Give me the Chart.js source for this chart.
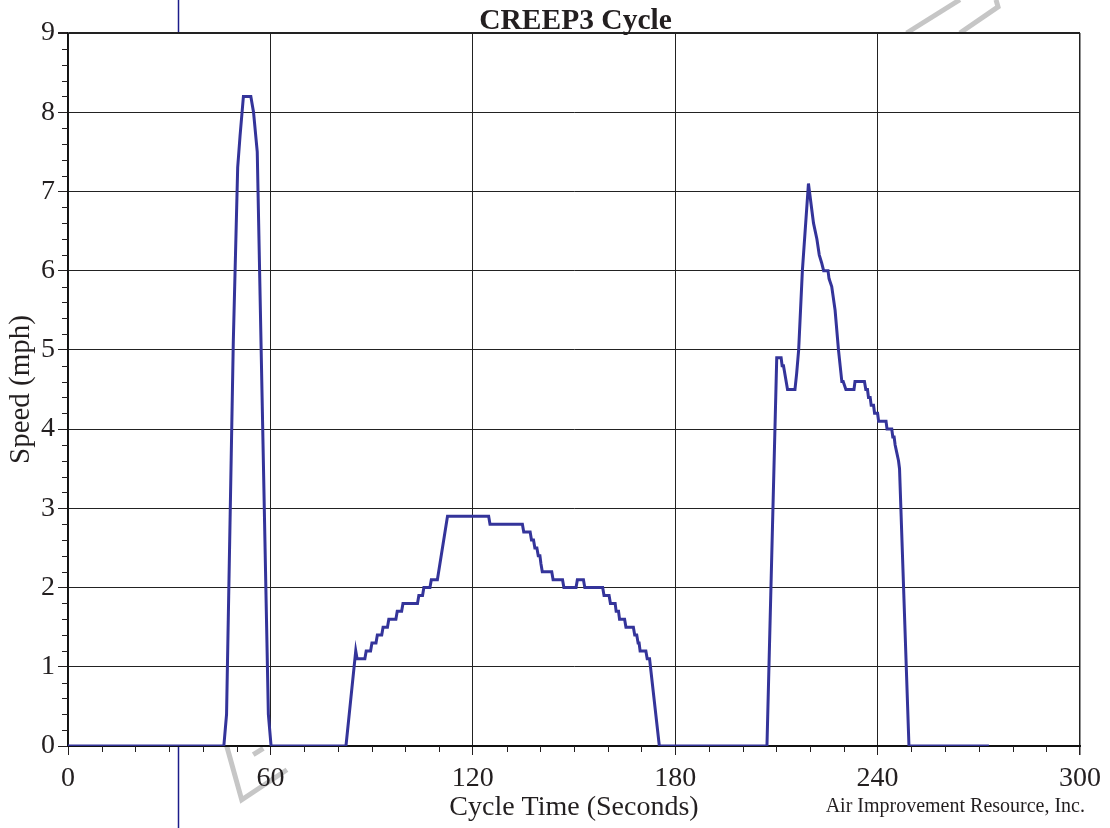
<!DOCTYPE html>
<html>
<head>
<meta charset="utf-8">
<title>CREEP3 Cycle</title>
<script src="https://cdn.jsdelivr.net/npm/chart.js@4.4.1/dist/chart.umd.min.js"></script>
<style>
  html, body { margin: 0; padding: 0; background: #fff; }
  #wrap { position: relative; width: 1110px; height: 828px; }
</style>
</head>
<body>
<div id="wrap"><canvas id="creepChart"></canvas></div>
<script>
// CREEP3 speed trace (seconds, mph)
const cycleTimes = [
  0, 46.2, 47, 49, 50.3, 51, 52, 54.2, 55, 56.1, 59.4, 60.2,
  82.4, 85.3, 85.7, 88, 88.4, 89.7, 90.1, 91.3, 91.7, 93, 93.4, 94.7,
  95.1, 97.2, 97.6, 98.9, 99.3, 103.6, 104, 105.1, 105.5, 107.3, 107.7, 109.5,
  112.5, 124.7, 125.1, 134.7, 135.1, 137, 137.4, 138, 138.4, 139, 139.4, 139.9,
  140.2, 140.6, 143.4, 143.8, 146.6, 147, 150.6, 151, 152.8, 153.2, 158.5, 158.9,
  160.4, 160.8, 162.2, 162.5, 163.2, 163.5, 165, 165.4, 167.6, 168, 168.6, 169,
  169.3, 169.6, 171.3, 171.7, 172.4, 175.3,
  207.2, 210.1, 211.4, 211.7, 212.1, 213.3, 215.5, 216, 216.6, 217.7, 219.5, 219.8,
  221, 222, 222.7, 223.4, 224, 225.3, 225.6, 226.4, 227.4, 228.4, 229.4, 229.8,
  230.6, 233, 233.3, 236.1, 236.5, 237, 237.3, 237.8, 238.1, 238.8, 239.1, 240,
  240.3, 242.5, 242.8, 244.2, 244.5, 244.9, 245.2, 245.7, 246.2, 246.5, 249.3, 273
];
const cycleSpeeds = [
  0, 0, 0.4, 5.1, 7.3, 7.7, 8.2, 8.2, 8.0, 7.5, 0.4, 0,
  0, 1.2, 1.1, 1.1, 1.2, 1.2, 1.3, 1.3, 1.4, 1.4, 1.5, 1.5,
  1.6, 1.6, 1.7, 1.7, 1.8, 1.8, 1.9, 1.9, 2.0, 2.0, 2.1, 2.1,
  2.9, 2.9, 2.8, 2.8, 2.7, 2.7, 2.6, 2.6, 2.5, 2.5, 2.4, 2.4,
  2.3, 2.2, 2.2, 2.1, 2.1, 2.0, 2.0, 2.1, 2.1, 2.0, 2.0, 1.9,
  1.9, 1.8, 1.8, 1.7, 1.7, 1.6, 1.6, 1.5, 1.5, 1.4, 1.4, 1.3,
  1.3, 1.2, 1.2, 1.1, 1.1, 0,
  0, 4.9, 4.9, 4.8, 4.8, 4.5, 4.5, 4.7, 5.0, 6.0, 7.1, 7.0,
  6.6, 6.4, 6.2, 6.1, 6.0, 6.0, 5.9, 5.8, 5.5, 5.0, 4.6, 4.6,
  4.5, 4.5, 4.6, 4.6, 4.5, 4.5, 4.4, 4.4, 4.3, 4.3, 4.2, 4.2,
  4.1, 4.1, 4.0, 4.0, 3.9, 3.9, 3.8, 3.7, 3.6, 3.5, 0, 0
];

const xMajorStep = 60;
const xMinorStep = 10;
const yMajorStep = 1;
const yMinorStep = 0.2;

const chartTitle = 'CREEP3 Cycle';
const xTitle = 'Cycle Time (Seconds)';
const yTitle = 'Speed (mph)';
const footerText = 'Air Improvement Resource, Inc.';

const SERIF = "'Liberation Serif', 'Times New Roman', serif";
const INK = '#231f20';

// scan artifacts in the source page (data units, drawn behind the plot)
const navyRuleAt = 32.6;
const grayStrokes = [
  [[248.6, 9.0], [264.4, 9.42]],
  [[264.4, 9.0], [275.7, 9.33], [275.1, 9.42]],
  [[47.05, 0], [51.5, -0.68], [64.9, -0.3]],
  [[54.9, -0.11], [57.9, -0.03]]
];

const pageBackdrop = {
  id: 'pageBackdrop',
  beforeDraw(chart) {
    const { ctx, chartArea: a, scales: { x, y } } = chart;
    ctx.save();
    ctx.fillStyle = '#fff';
    ctx.fillRect(0, 0, chart.width, chart.height);

    ctx.strokeStyle = '#c6c6c6';
    ctx.lineWidth = 5;
    ctx.lineJoin = 'miter';
    grayStrokes.forEach(stroke => {
      ctx.beginPath();
      stroke.forEach(([t, v], i) => {
        const px = x.getPixelForValue(t), py = y.getPixelForValue(v);
        if (i === 0) ctx.moveTo(px, py); else ctx.lineTo(px, py);
      });
      ctx.stroke();
    });

    const nx = Math.round(x.getPixelForValue(navyRuleAt)) + 0.5;
    ctx.strokeStyle = '#1c1c8a';
    ctx.lineWidth = 1.5;
    ctx.beginPath();
    ctx.moveTo(nx, 0);
    ctx.lineTo(nx, chart.height);
    ctx.stroke();

    ctx.fillStyle = '#fff';
    ctx.fillRect(a.left, a.top, a.right - a.left, a.bottom - a.top);
    ctx.restore();
  }
};

const minorTicks = {
  id: 'minorTicks',
  beforeDatasetsDraw(chart) {
    const { ctx, scales: { x, y } } = chart;
    ctx.save();
    ctx.strokeStyle = INK;
    ctx.lineWidth = 1;
    ctx.beginPath();
    const perY = Math.round(yMajorStep / yMinorStep);
    for (let i = 0; i <= Math.round(y.max / yMinorStep); i++) {
      if (i % perY === 0) continue;
      const py = Math.round(y.getPixelForValue(i * yMinorStep)) + 0.5;
      ctx.moveTo(x.left - 6, py);
      ctx.lineTo(x.left, py);
    }
    const perX = Math.round(xMajorStep / xMinorStep);
    for (let i = 0; i <= Math.round(x.max / xMinorStep); i++) {
      if (i % perX === 0) continue;
      const px = Math.round(x.getPixelForValue(i * xMinorStep)) + 0.5;
      ctx.moveTo(px, y.bottom);
      ctx.lineTo(px, y.bottom + 6);
    }
    ctx.stroke();
    ctx.restore();
  }
};

const pageText = {
  id: 'pageText',
  afterDraw(chart) {
    const { ctx, chartArea: a } = chart;
    ctx.save();
    ctx.fillStyle = INK;
    ctx.textBaseline = 'alphabetic';
    ctx.textAlign = 'center';
    ctx.font = 'bold 29.5px ' + SERIF;
    ctx.fillText(chartTitle, (a.left + a.right) / 2 + 1.5, a.top - 4);
    ctx.textAlign = 'right';
    ctx.font = '20px ' + SERIF;
    ctx.fillText(footerText, a.right + 5, chart.height - 16);
    ctx.restore();
  }
};

const points = cycleTimes.map((t, i) => ({ x: t, y: cycleSpeeds[i] }));

new Chart(document.getElementById('creepChart'), {
  type: 'line',
  data: {
    datasets: [{
      data: points,
      borderColor: '#34349a',
      borderWidth: 3,
      pointRadius: 0,
      tension: 0,
      fill: false
    }]
  },
  options: {
    responsive: true,
    maintainAspectRatio: false,
    animation: false,
    events: [],
    layout: { padding: { top: 33, right: 30, bottom: 0, left: 0 } },
    plugins: {
      legend: { display: false },
      title: { display: false },
      tooltip: { enabled: false }
    },
    scales: {
      x: {
        type: 'linear',
        min: 0,
        max: 300,
        ticks: {
          stepSize: xMajorStep,
          maxRotation: 0,
          padding: 7,
          color: INK,
          font: { family: SERIF, size: 28 }
        },
        grid: {
          color: '#222',
          lineWidth: ctx => (ctx.tick && ctx.tick.value === 300 ? 1.5 : 1),
          tickLength: 9,
          tickColor: INK
        },
        border: { color: '#111', width: 2 },
        title: {
          display: true,
          text: xTitle,
          color: INK,
          font: { family: SERIF, size: 28 },
          padding: { top: 0, bottom: 4 }
        },
        afterFit(scale) { scale.height = 82; }
      },
      y: {
        min: 0,
        max: 9,
        ticks: {
          stepSize: yMajorStep,
          padding: 3,
          color: INK,
          font: { family: SERIF, size: 28 }
        },
        grid: {
          color: '#222',
          lineWidth: ctx => (ctx.tick && ctx.tick.value === 9 ? 2 : 1),
          tickLength: 10,
          tickColor: INK
        },
        border: { color: '#111', width: 1.5 },
        title: {
          display: true,
          text: yTitle,
          color: INK,
          font: { family: SERIF, size: 29 },
          padding: { top: 4, bottom: 0 }
        },
        afterFit(scale) { scale.width = 68; }
      }
    }
  },
  plugins: [pageBackdrop, minorTicks, pageText]
});
</script>
</body>
</html>
